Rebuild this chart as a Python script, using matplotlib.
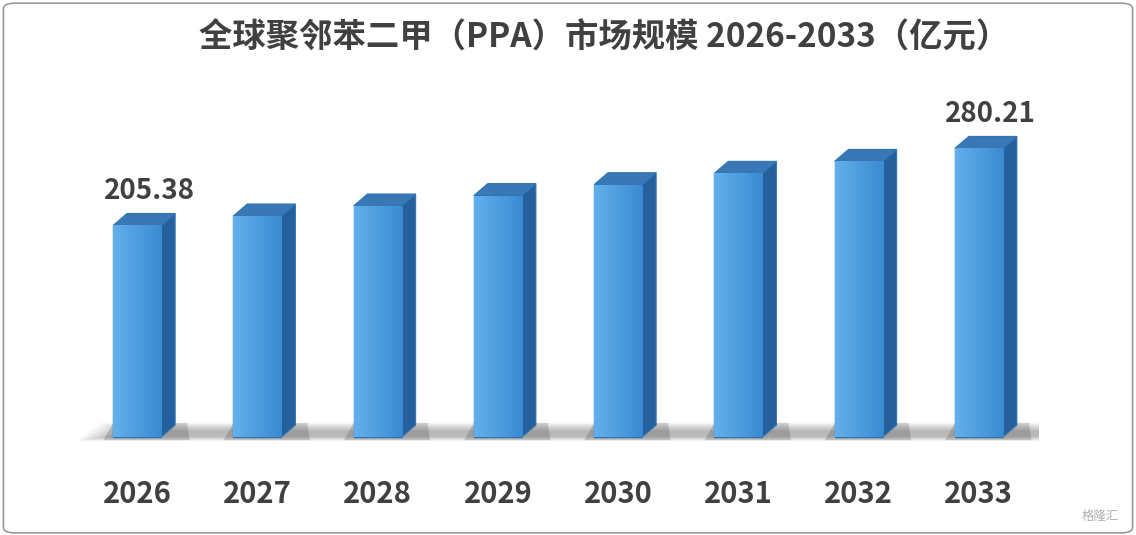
import matplotlib
matplotlib.use("Agg")
import matplotlib.pyplot as plt
from matplotlib.patches import Polygon, FancyBboxPatch
import numpy as np

plt.rcParams['font.family'] = ['Noto Sans CJK SC', 'DejaVu Sans']

years = ['2026', '2027', '2028', '2029', '2030', '2031', '2032', '2033']
values = [205.38, 214.6, 224.3, 234.4, 245.0, 256.0, 267.6, 280.21]
shown = {0: '205.38', 7: '280.21'}

fig = plt.figure(figsize=(11.36, 5.35), dpi=100)
fig.patch.set_facecolor('white')
fig.patches.append(FancyBboxPatch((0.003, 0.004), 0.994, 0.99, boxstyle="round,pad=0,rounding_size=0.01",
                                  transform=fig.transFigure, fill=False, ec='#9a9a9a', lw=1.2))

ymin, ymax = -20, 300
px = 1.03
bottom_px = 437 + 20 * px
ax = fig.add_axes([77 / 1136, (535 - bottom_px) / 535, 962 / 1136, (ymax - ymin) * px / 535])
ax.set_xlim(-0.5, 7.5)
ax.set_ylim(ymin, ymax)
ax.axis('off')

w = 0.4
dx, dy = 0.116, 11.6

# soft floor shadow
for k in range(10):
    ax.add_patch(Polygon([(-0.5 + k * 0.03, -4 + k * 0.5), (7.75 - k * 0.03, -4 + k * 0.5),
                          (7.85 - k * 0.03, 14 - k * 0.9), (-0.3 + k * 0.03, 14 - k * 0.9)],
                         closed=True, fc='#202020', ec='none', alpha=0.035, zorder=1))

x = np.arange(len(years))
cmap = matplotlib.colors.LinearSegmentedColormap.from_list('g', ['#62b0ea', '#3a8ad2'])
bars = ax.bar(x, values, width=w, color='#4d9de0', edgecolor='#2e75b6', lw=1, zorder=3)
for i, (b, v) in enumerate(zip(bars, values)):
    x0 = b.get_x()
    x1 = x0 + b.get_width()
    # shadow darker right at the bar foot
    ax.add_patch(Polygon([(x0 - 0.08, -3), (x1 + dx + 0.12, -3), (x1 + dx + 0.1, dy + 2), (x0, dy + 2)],
                         closed=True, fc='#202020', ec='none', alpha=0.18, zorder=1.5))
    grad = np.linspace(0, 1, 50).reshape(1, -1)
    im = ax.imshow(grad, extent=[x0, x1, 0, v], aspect='auto', cmap=cmap, zorder=3.5)
    im.set_clip_path(b)
    ax.add_patch(Polygon([(x1, 0), (x1 + dx, dy), (x1 + dx, v + dy), (x1, v)], closed=True,
                         fc='#25609c', ec='#2e75b6', lw=0.8, zorder=3))
    ax.add_patch(Polygon([(x0, v), (x0 + dx, v + dy), (x1 + dx, v + dy), (x1, v)], closed=True,
                         fc='#3a78b5', ec='#2e75b6', lw=0.8, zorder=3))
    if i in shown:
        ax.text(i + 0.1, v + 20, shown[i], ha='center', va='bottom', fontsize=20, fontweight='bold', color='#404040')
    ax.text(i, -55, years[i], ha='center', va='center', fontsize=21, fontweight='bold', color='#404040', clip_on=False)

fig.text(0.532, 0.929, '全球聚邻苯二甲（PPA）市场规模 2026-2033（亿元）', ha='center', va='center',
         fontsize=24, fontweight='bold', color='#404040')
fig.text(0.985, 0.035, '格隆汇', ha='right', va='center', fontsize=9, color='#b0b0b0')

fig.savefig('out.png', dpi=100)
